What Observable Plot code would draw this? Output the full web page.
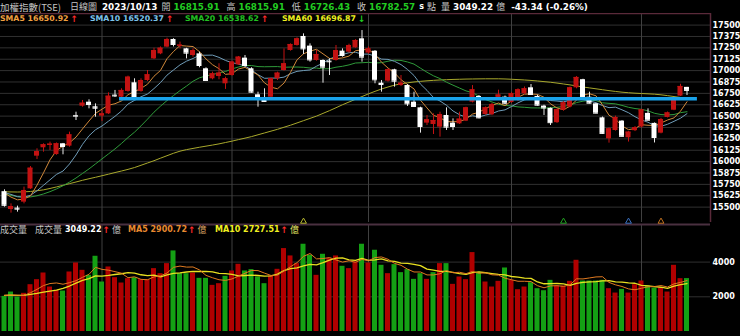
<!DOCTYPE html>
<html><head><meta charset="utf-8">
<script src="https://cdn.jsdelivr.net/npm/d3@7"></script>
<script src="https://cdn.jsdelivr.net/npm/@observablehq/plot@0.6"></script>
<style>
body{margin:0;background:#000;}
#wrap{position:relative;width:740px;height:336px;background:#000;overflow:hidden;font-family:"DejaVu Sans",sans-serif;}
.row{position:absolute;display:flex;align-items:center;white-space:nowrap;height:12px;}
.row span{line-height:12px;}
.b{font-weight:bold;font-family:"DejaVu Sans",sans-serif;}
.cjk{font-family:"Noto Sans CJK TC",sans-serif;}
</style></head><body><div id="wrap"></div>
<script>
// ---- data ----
const open = [15670,15474,15489,15555,15701,16060,16152,16178,16078,16196,
 16170,16507,16609,16653,16602,16500,16525,16730,16708,16771,
 16866,16771,16891,17129,17184,17258,17342,17268,17239,17166,
 17184,17020,16910,16935,16855,16946,17064,17137,17020,16734,
 16679,16708,16910,17001,17221,17276,17375,17269,17111,17111,
 17104,17111,17214,17203,17250,17349,17192,17213,16862,16884,
 17009,16836,16836,16653,16591,16423,16408,16379,16507,16423,
 16415,16445,16653,16716,16518,16515,16705,16708,16650,16672,
 16745,16811,16716,16610,16585,16428,16565,16600,16811,16900,
 16708,16635,16481,16250,16342,16445,16262,16340,16380,16530,
 16420,16313,16485,16565,16720,16815.91];
const high = [15690,15536,15511,15720,15946,16141,16196,16214,16205,16200,
 16324,16543,16672,16679,16635,16562,16756,16782,16800,16939,
 16910,16910,17001,17246,17260,17356,17350,17313,17245,17239,
 17203,17031,16983,17075,16928,17104,17155,17166,17031,16763,
 16800,16917,16983,17239,17294,17360,17404,17294,17221,17118,
 17129,17276,17239,17290,17340,17440,17260,17220,16891,17020,
 17015,16946,16847,16763,16598,16507,16525,16543,16591,16470,
 16543,16598,16836,16727,16600,16640,16785,16720,16760,16800,
 16820,16847,16730,16620,16590,16575,16660,16820,16935,16905,
 16763,16640,16490,16370,16500,16450,16330,16385,16575,16580,
 16425,16475,16545,16700,16850,16815.91];
const low = [15500,15434,15445,15536,15695,16023,16104,16122,16070,16075,
 16159,16452,16598,16580,16488,16441,16518,16705,16697,16763,
 16683,16763,16880,17122,17175,17250,17260,17239,17129,17148,
 17031,16884,16899,16899,16793,16939,17056,17038,16752,16598,
 16653,16701,16891,16994,17214,17269,17177,17093,17104,16862,
 16946,17104,17148,17190,17245,17093,17180,16855,16763,16873,
 16818,16825,16606,16598,16313,16397,16298,16269,16342,16342,
 16408,16440,16645,16470,16510,16505,16690,16625,16640,16660,
 16735,16730,16610,16507,16397,16420,16555,16590,16800,16700,
 16635,16525,16300,16203,16335,16270,16215,16330,16370,16450,
 16205,16305,16480,16560,16715,16726.43];
const close = [15520,15507,15478,15683,15928,16111,16185,16192,16196,16166,
 16294,16500,16642,16628,16587,16525,16719,16722,16782,16928,
 16697,16891,16954,17221,17246,17342,17287,17280,17192,17221,
 17056,16891,16965,16972,16910,17093,17148,17056,16763,16697,
 16661,16910,16972,17075,17287,17349,17239,17118,17177,17038,
 17097,17221,17166,17276,17331,17148,17239,16899,16847,17009,
 16884,16862,16635,16606,16386,16460,16452,16518,16379,16386,
 16467,16591,16789,16481,16591,16628,16732,16642,16745,16789,
 16800,16738,16620,16590,16428,16570,16645,16811,16925,16705,
 16642,16533,16310,16360,16485,16278,16324,16372,16568,16455,
 16265,16462,16535,16685,16825.91,16782.57];
const volume = [2023,2274,1985,2200,2698,2987,3372,2563,2370,2332,
 3430,3950,3526,3237,4336,2852,3719,3102,2794,3045,
 3102,2987,2987,3623,3334,3912,4644,3334,3334,3372,
 3064,3064,2659,2756,3180,3488,3873,3488,3565,3141,
 2756,3199,3584,4779,4355,3912,5029,4394,3237,4451,
 4201,4355,3758,3623,4008,5029,3950,4683,3815,3334,
 3854,3392,3565,3006,3334,3006,3392,3912,3912,2717,
 3141,2987,4548,3392,2852,2563,2891,3661,2948,2409,
 2563,2813,2467,2351,2948,2621,2621,2891,4105,2910,
 2910,2910,2948,2467,2216,2428,2216,2698,2910,2621,
 2505,2505,2274,3815,3045,3049.22];
const sma60 = [15668,15667,15666,15668,15672,15680,15690,15705,15722,15740,
 15758,15776,15795,15812,15828,15845,15862,15880,15897,15915,
 15935,15960,15985,16010,16038,16065,16092,16115,16132,16145,
 16158,16170,16182,16195,16210,16225,16242,16258,16275,16295,
 16315,16335,16355,16378,16400,16425,16450,16475,16500,16530,
 16560,16592,16625,16655,16685,16715,16745,16772,16798,16820,
 16840,16855,16866,16875,16882,16888,16893,16897,16900,16903,
 16905,16907,16908,16909,16910,16910,16910,16908,16905,16901,
 16897,16892,16886,16879,16872,16863,16853,16843,16832,16820,
 16810,16800,16790,16780,16771,16763,16757,16752,16748,16745,
 16741,16734,16725,16715,16705,16697];
// moving-average values before a full window exists
const sma5Head = [15655,15610,15580,15590];
const sma10Head = [15660,15640,15615,15610,15630,15680,15740,15800,15860];
const sma20Head = [15640,15630,15615,15610,15612,15625,15645,15670,15700,15735,15775,15820,15870,15920,15975,16030,16085,16140,16200];
const volMa5Head = [2080,2100,2090,2080];
const volMa10Head = [2080,2090,2085,2090,2140,2200,2270,2330,2380];
const monthStarts = [15,35,56,78,98];
const priceTicks = [15500,15625,15750,15875,16000,16125,16250,16375,16500,16625,16750,16875,17000,17125,17250,17375,17500];
const volTicks = [2000,4000];
const support = [{price:16690, from:17.7, to:106.6}];
const crossMarks = [{i:46,color:"#b8b830"},{i:86,color:"#22a022"},{i:96,color:"#3a70c0"},{i:101,color:"#c07020"}];
const headerTitle = "加權指數(TSE)";
const headerPeriod = "日線圖";
const headerDate = "2023/10/13";
const smaNames = ["SMA5","SMA10","SMA20","SMA60"];
const smaLegend = [16650.92,16520.37,16538.62,16696.87];
const smaDir = ["up","up","up","down"];
const volNames = ["成交量","MA5","MA10"];
const volLegend = [3049.22,2900.72,2727.51];

// ---- build ----
const n = close.length;
const rows = d3.range(n).map(i => ({
  i, o: open[i], h: high[i], l: low[i], c: close[i], v: volume[i],
  up: close[i] > open[i],
  volUp: i === 0 ? close[i] >= open[i] : close[i] >= close[i-1]
}));
function sma(arr, k, head){ return arr.map((_, i) => i < k-1 ? head[i] : d3.mean(arr.slice(i-k+1, i+1))); }
const s5 = sma(close,5,sma5Head), s10 = sma(close,10,sma10Head), s20 = sma(close,20,sma20Head);
const vm5 = sma(volume,5,volMa5Head), vm10 = sma(volume,10,volMa10Head);
const lineRows = (arr) => arr.map((v,i)=>({i, v}));

const RED = "#c21212", WHITE = "#ffffff", VRED = "#b00000", VGREEN = "#14a014";
const xDom = [-4/6.5, -4/6.5 + 710/6.5];
const yDom = [15331.2, 17627.4];
const vDom = [0, 6167];
const axisStyle = {background:"transparent", color:"#fff", fontFamily:"DejaVu Sans", fontSize:"8px", fontWeight:"bold"};

const price = Plot.plot({
  width: 740, height: 209, marginTop: 0, marginBottom: 0, marginLeft: 0, marginRight: 30,
  style: axisStyle,
  x: {domain: xDom, axis: null},
  y: {domain: yDom, axis: "right", ticks: priceTicks, tickSize: 0, tickPadding: 2, tickFormat: "d", label: null},
  marks: [
    Plot.ruleY(priceTicks, {stroke: "#303030"}),
    Plot.ruleX(monthStarts, {stroke: "#404040"}),
    Plot.ruleY([yDom[1]], {stroke: "#5a2a3a", strokeWidth: 1.5}),
    Plot.ruleX([xDom[1]], {stroke: "#5a2a3a", strokeWidth: 1.5}),
    Plot.lineY(lineRows(sma60), {x: "i", y: "v", stroke: "#a8a82c", strokeWidth: 1}),
    Plot.lineY(lineRows(s20), {x: "i", y: "v", stroke: "#2f9a3a", strokeWidth: 1}),
    Plot.lineY(lineRows(s10), {x: "i", y: "v", stroke: "#6f9cb8", strokeWidth: 1}),
    Plot.lineY(lineRows(s5), {x: "i", y: "v", stroke: "#d0883a", strokeWidth: 1}),
    Plot.ruleX(rows, {x: "i", y1: "l", y2: "h", stroke: d => d.up ? RED : "#e8e8e8", strokeWidth: 1}),
    Plot.rect(rows, {x1: d => d.i - 0.5, x2: d => d.i + 0.5, y1: "o", y2: "c", insetLeft: 0.75, insetRight: 0.75, fill: d => d.up ? RED : WHITE}),
    Plot.ruleY(rows, {y: "c", x1: d => d.i - 0.5, x2: d => d.i + 0.5, insetLeft: 0.75, insetRight: 0.75, stroke: d => d.up ? RED : WHITE}),
    Plot.ruleY(support, {y: "price", x1: "from", x2: "to", stroke: "#19a2ea", strokeWidth: 3.5})
  ]
});

const vol = Plot.plot({
  width: 740, height: 120, marginTop: 8, marginBottom: 5, marginLeft: 0, marginRight: 30,
  style: axisStyle,
  x: {domain: xDom, axis: null},
  y: {domain: vDom, axis: "right", ticks: volTicks, tickSize: 0, tickPadding: 2, tickFormat: "d", label: null},
  marks: [
    Plot.ruleY(volTicks, {stroke: "#303030"}),
    Plot.ruleX(monthStarts, {stroke: "#404040"}),
    Plot.ruleY([vDom[1]], {stroke: "#4a3040", strokeWidth: 2}),
    Plot.rect(rows, {x1: d => d.i - 0.5, x2: d => d.i + 0.5, y1: 0, y2: "v", insetLeft: 0.75, insetRight: 0.75, fill: d => d.volUp ? VRED : VGREEN}),
    Plot.lineY(lineRows(vm10), {x: "i", y: "v", stroke: "#e8e020", strokeWidth: 1.3}),
    Plot.lineY(lineRows(vm5), {x: "i", y: "v", stroke: "#e07a20", strokeWidth: 1}),
    Plot.dot(crossMarks, {x: "i", frameAnchor: "top", dy: -3, symbol: "triangle", r: 2.2, stroke: "color", fill: "none", strokeWidth: 1})
  ]
});

const wrap = document.getElementById("wrap");
function place(node, top){ const d = document.createElement("div"); d.style.cssText = `position:absolute;left:0;top:${top}px;`; d.appendChild(node); wrap.appendChild(d); }
place(price, 13);
place(vol, 216);

// text rows: items are [text, color, class, size, marginLeft]
function row(x, y, items){
  const r = document.createElement("div");
  r.className = "row"; r.style.left = x + "px"; r.style.top = y + "px";
  for (const [s, color, cls, size, ml] of items){
    const e = document.createElement("span");
    e.className = cls; e.textContent = s;
    e.style.color = color; e.style.fontSize = size + "px"; e.style.marginLeft = (ml || 0) + "px";
    r.appendChild(e);
  }
  wrap.appendChild(r);
}
const f2 = v => v.toFixed(2);
const GRAY = "#c4c4c4", GREEN = "#22cc22", AR = "#ff2a2a";
const last = n - 1;
const chg = close[last] - close[last-1];
const H = 8.8, C = 9;
row(0, 1, [
  [headerTitle, GRAY, "cjk", 9.5, 0],
  [headerPeriod, GRAY, "cjk", C, 9],
  [headerDate, "#fff", "b", H, 5],
  ["開", GRAY, "cjk", C, 4],
  [f2(open[last]), GREEN, "b", H, 3],
  ["高", GRAY, "cjk", C, 7],
  [f2(high[last]), GREEN, "b", H, 3],
  ["低", GRAY, "cjk", C, 7],
  [f2(low[last]), GREEN, "b", H, 3],
  ["收", GRAY, "cjk", C, 7],
  [f2(close[last]), GREEN, "b", H, 3],
  ["s", "#fff", "b", 8, 4],
  ["點", GRAY, "cjk", C, 3],
  ["量", GRAY, "cjk", C, 5],
  [f2(volume[last]), "#fff", "b", H, 3],
  ["億", GRAY, "cjk", C, 3],
  [`${chg.toFixed(2)} (${(chg/close[last-1]*100).toFixed(2)}%)`, "#fff", "b", H, 6]
]);
// SMA legend row
const smaColors = ["#f0a040","#7cc4ec","#22c022","#f0f020"];
const smaX = [0, 90, 185, 282];
smaNames.forEach((nm, k) => {
  row(smaX[k], 13, [
    [`${nm} ${f2(smaLegend[k])}`, smaColors[k], "b", 7.8, 0],
    [smaDir[k] === "up" ? "↑" : "↓", smaDir[k] === "up" ? AR : GREEN, "b", 9, 2]
  ]);
});
// volume legend row
row(0, 224, [[volNames[0], GRAY, "cjk", 9, 0]]);
row(35, 224, [
  [volNames[0], GRAY, "cjk", 9, 0],
  [f2(volLegend[0]), "#fff", "b", 8, 3],
  ["↑", AR, "b", 9, 1],
  ["億", GRAY, "cjk", 9, 2]
]);
row(128, 224, [
  [`${volNames[1]} ${f2(volLegend[1])}`, "#e88a30", "b", 8, 0],
  ["↑", AR, "b", 9, 1],
  ["億", "#d8a060", "cjk", 9, 2]
]);
row(215, 224, [
  [`${volNames[2]} ${f2(volLegend[2])}`, "#f0f020", "b", 8, 0],
  ["↑", AR, "b", 9, 1],
  ["億", "#e0e060", "cjk", 9, 2]
]);
</script>
</body></html>
